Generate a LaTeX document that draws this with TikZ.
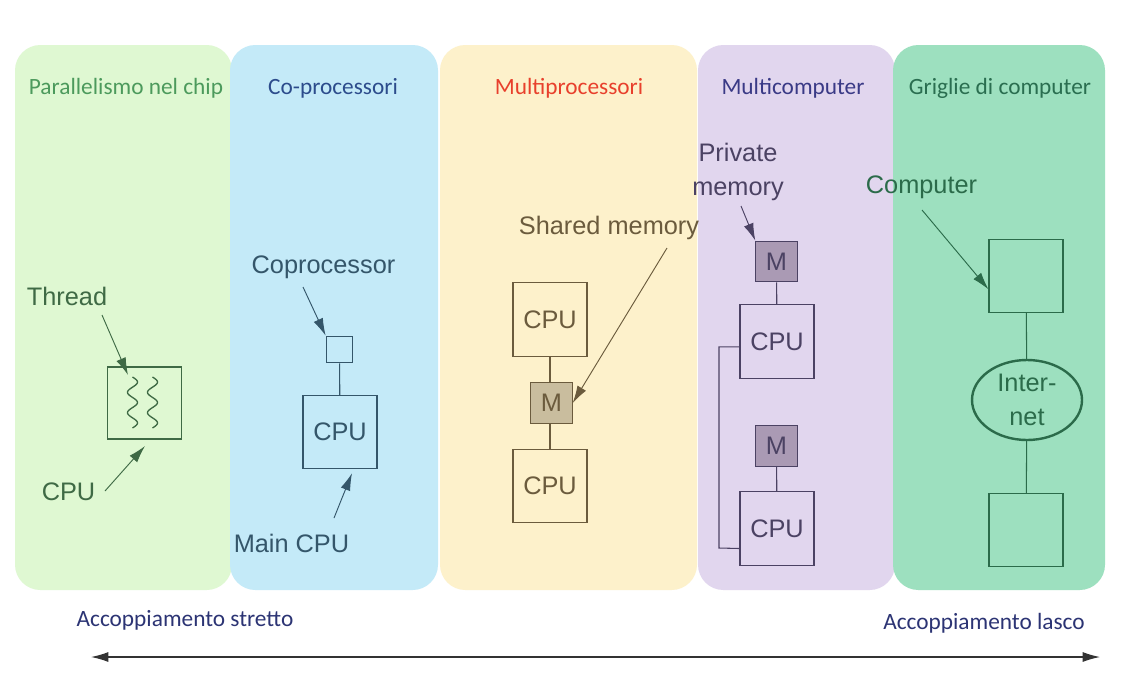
\documentclass[tikz,border=0pt]{standalone}
\usepackage{fontspec}
\setmainfont{Liberation Sans}
\newfontfamily\titlefont{Carlito}
\usetikzlibrary{arrows.meta,shapes.geometric}

\definecolor{chipbg}{HTML}{DFF8D2}
\definecolor{copbg}{HTML}{C4EAF8}
\definecolor{mpbg}{HTML}{FDF1CB}
\definecolor{mcbg}{HTML}{E1D6EE}
\definecolor{gridbg}{HTML}{9DE0BF}
\definecolor{chiptitle}{HTML}{4C9A5C}
\definecolor{coptitle}{HTML}{2C4C8C}
\definecolor{mptitle}{HTML}{E8402C}
\definecolor{mctitle}{HTML}{3A3A86}
\definecolor{gridtitle}{HTML}{2A6E50}
\definecolor{chipline}{HTML}{3F6A45}
\definecolor{copline}{HTML}{34566A}
\definecolor{mpline}{HTML}{6B5B3D}
\definecolor{mcline}{HTML}{4B4263}
\definecolor{gridline}{HTML}{2B6B4A}
\definecolor{mpmem}{HTML}{C9BD9E}
\definecolor{mcmem}{HTML}{AA9AB4}
\definecolor{coupling}{HTML}{2C3474}

\tikzset{
  panel/.style={rounded corners=19pt},
  title/.style={font=\titlefont\fontsize{17.5}{20}\selectfont},
  lbl/.style={font=\fontsize{19}{25.5}\selectfont, align=center, inner sep=0pt},
  box/.style={draw, line width=0.8pt, minimum width=55.5pt, minimum height=55pt,
    inner sep=0pt, font=\fontsize{19}{22}\selectfont},
  mem/.style={box, minimum width=31pt, minimum height=30.5pt},
  ptr/.style={-{Latex[length=13pt,width=7.5pt]}, line width=0.7pt},
  link/.style={line width=0.8pt}
}

\begin{document}
\begin{tikzpicture}[x=0.75pt,y=-0.75pt]
\useasboundingbox[fill=white] (0,0) rectangle (1145,693);
% pannelli
\fill[chipbg,panel] (15,45) rectangle (232,590);
\fill[copbg,panel] (230,45) rectangle (438,590);
\fill[mpbg,panel] (440,45) rectangle (697,590);
\fill[mcbg,panel] (698,45) rectangle (895,590);
\fill[gridbg,panel] (893,45) rectangle (1105,590);

\node[title,text=chiptitle] (tchip) at (126,88) {Parallelismo nel chip};
\node[title,text=coptitle] (tcop) at (333,88) {Co-processori};
\node[title,text=mptitle] (tmp) at (569,88) {Multiprocessori};
\node[title,text=mctitle] (tmc) at (793,88) {Multicomputer};
\node[title,text=gridtitle] (tgrid) at (1000,88) {Griglie di computer};

% parallelismo nel chip
\node[box,draw=chipline,minimum height=54pt,minimum width=56pt] (chipcpu) at (144.5,403) {};
\draw[chipline,line width=1pt] plot[domain=0:1,samples=60] ({132.5+5*sin(\x*900)},{377+51*\x});
\draw[chipline,line width=1pt] plot[domain=0:1,samples=60] ({152.5+5*sin(\x*900)},{377+51*\x});
\node[lbl,text=chipline] (thread) at (67,296) {Thread};
\node[lbl,text=chipline] (chiplbl) at (68.5,492) {CPU};
\coordinate (threadtip) at (128,375);
\coordinate (chiptip) at (145,446);
\draw[ptr,chipline] (102,315) -- (threadtip);
\draw[ptr,chipline] (105,491) -- (chiptip);

% co-processori
\node[box,draw=copline,minimum width=20pt,minimum height=20pt] (copro) at (339.5,349.5) {};
\node[box,draw=copline,text=copline] (maincpu) at (340,432) {CPU};
\draw[link,copline] (copro) -- (maincpu);
\node[lbl,text=copline] (coprolbl) at (323.5,267) {Coprocessor};
\node[lbl,text=copline] (mainlbl) at (291.5,543) {Main CPU};
\coordinate (coprostart) at (303,287);
\coordinate (mainstart) at (334,518);
\draw[ptr,copline] (coprostart) -- (copro.north west);
\draw[ptr,copline] (mainstart) -- ([xshift=9pt,yshift=-3pt]maincpu.south);

% multiprocessori
\node[box,draw=mpline,text=mpline] (mpcpua) at (550,319.5) {CPU};
\node[mem,draw=mpline,fill=mpmem,text=mpline] (mpmem) at (551.5,403) {M};
\node[box,draw=mpline,text=mpline] (mpcpub) at (550,486) {CPU};
\draw[link,mpline] (mpcpua) -- (mpcpua |- mpmem.north);
\draw[link,mpline] (mpcpub) -- (mpcpub |- mpmem.south);
\node[lbl,text=mpline] (sharedlbl) at (609,228) {Shared memory};
\coordinate (sharedstart) at (667,248);
\draw[ptr,mpline] (sharedstart) -- (mpmem.east);

% multicomputer
\node[mem,draw=mcline,fill=mcmem,text=mcline] (mcmema) at (776.5,261.5) {M};
\node[box,draw=mcline,text=mcline] (mccpua) at (777,341.5) {CPU};
\node[mem,draw=mcline,fill=mcmem,text=mcline] (mcmemb) at (776.5,446) {M};
\node[box,draw=mcline,text=mcline] (mccpub) at (777,528.5) {CPU};
\draw[link,mcline] (mcmema) -- (mccpua);
\draw[link,mcline] (mcmemb) -- (mccpub);
\draw[link,mcline] ([yshift=-4pt]mccpua.west) -| (719,548) -- ([yshift=-15pt]mccpub.west);
\node[lbl,text=mcline] (privlbl) at (738,172) {Private\\memory};
\coordinate (privstart) at (741,206);
\draw[ptr,mcline] (privstart) -- (mcmema.north west);

% griglie di computer
\node[box,draw=gridline] (compa) at (1026,276) {};
\node[ellipse,draw=gridline,line width=1.8pt,minimum width=82.5pt,minimum height=60pt,
  lbl,text=gridline] (inet) at (1027,400) {Inter-\\net};
\node[box,draw=gridline] (compb) at (1026,530) {};
\draw[link,gridline] (compa) -- (inet);
\draw[link,gridline] (inet) -- (compb);
\node[lbl,text=gridline] (complbl) at (921.5,187) {Computer};
\coordinate (compstart) at (922,210);
\draw[ptr,gridline] (compstart) -- ([yshift=-10pt]compa.west);

% accoppiamento
\node[title,text=coupling] (stretto) at (185,620) {Accoppiamento stretto};
\node[title,text=coupling] (lasco) at (984,623) {Accoppiamento lasco};
\coordinate (left) at (91,657);
\coordinate (right) at (1100,657);
\draw[{Latex[length=13pt,width=7.5pt]}-{Latex[length=13pt,width=7.5pt]},line width=0.9pt,black!80] (left) -- (right);
\end{tikzpicture}
\end{document}
